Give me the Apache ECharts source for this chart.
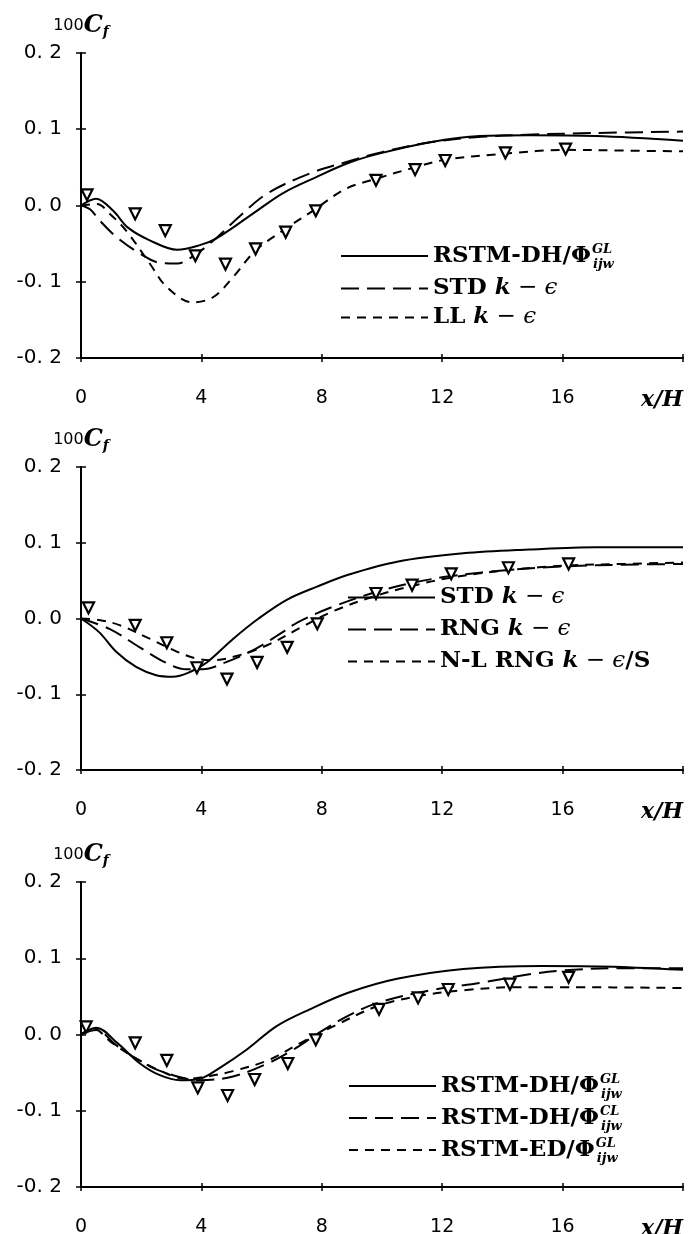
<!DOCTYPE html>
<html><head><meta charset="utf-8">
<script src="https://cdn.jsdelivr.net/npm/echarts@6/dist/echarts.min.js"></script>
<style>html,body{margin:0;padding:0;background:#fff}#c{width:696px;height:1234px}</style>
</head><body><div id="c"></div><script>
// ---- axis ranges ----
const xMin = 0, xMax = 20, xStep = 4;
const yMin = -0.2, yMax = 0.2, yStep = 0.1;

// ---- Panel 1 ----
const p1NameA = 'p1_rstm_dh_gl', p1NameB = 'p1_std', p1NameC = 'p1_ll';
const p1AX = [0, 0.5, 1.07, 1.56, 2.3, 3.2, 3.95, 4.5, 5.7, 6.7, 7.8, 8.9, 9.9, 11.6, 13.25, 14.9, 17.1, 20];
const p1AY = [0.0, 0.009, -0.007, -0.029, -0.046, -0.058, -0.052, -0.043, -0.011, 0.016, 0.037, 0.056, 0.068, 0.083, 0.091, 0.092, 0.091, 0.085];
const p1BX = [0, 0.3, 0.63, 1.2, 1.96, 2.6, 3.2, 3.7, 4.4, 5.3, 6.2, 7.6, 8.9, 10, 11.6, 13.3, 15, 17, 20];
const p1BY = [0.0, -0.005, -0.02, -0.042, -0.063, -0.075, -0.076, -0.067, -0.046, -0.013, 0.016, 0.042, 0.058, 0.07, 0.083, 0.09, 0.093, 0.095, 0.097];
const p1CX = [0, 0.53, 0.96, 1.5, 2.3, 2.85, 3.7, 4.4, 5.05, 5.8, 6.7, 7.7, 8.8, 9.8, 11, 12.1, 14.1, 16.1, 18, 20];
const p1CY = [0.0, 0.002, -0.011, -0.033, -0.077, -0.107, -0.127, -0.12, -0.094, -0.059, -0.033, -0.007, 0.022, 0.035, 0.049, 0.06, 0.068, 0.073, 0.072, 0.071];
const p1ExpX = [0.2, 1.8, 2.8, 3.8, 4.8, 5.8, 6.8, 7.8, 9.8, 11.1, 12.1, 14.1, 16.1];
const p1ExpY = [0.014, -0.011, -0.033, -0.066, -0.077, -0.057, -0.035, -0.007, 0.033, 0.047, 0.059, 0.069, 0.074];

// ---- Panel 2 ----
const p2NameA = 'p2_std', p2NameB = 'p2_rng', p2NameC = 'p2_nl_rng';
const p2AX = [0, 0.6, 1.17, 1.83, 2.5, 3.05, 3.6, 4.18, 5.05, 5.9, 6.85, 7.84, 8.9, 10.5, 12.7, 14.9, 17.1, 20];
const p2AY = [0.0, -0.018, -0.044, -0.064, -0.075, -0.077, -0.071, -0.058, -0.027, 0.0, 0.025, 0.042, 0.058, 0.075, 0.086, 0.091, 0.094, 0.094];
const p2BX = [0, 0.96, 1.95, 2.8, 3.5, 4.05, 4.8, 5.8, 6.7, 7.2, 8.4, 9.8, 11, 12.3, 14.2, 16.2, 18, 20];
const p2BY = [0.0, -0.014, -0.038, -0.058, -0.067, -0.067, -0.058, -0.04, -0.018, -0.005, 0.016, 0.035, 0.047, 0.056, 0.064, 0.069, 0.071, 0.072];
const p2CX = [0, 0.6, 1.3, 2.3, 3.2, 3.85, 4.4, 5.3, 6.2, 7.3, 8.4, 9.8, 11, 12.3, 14.2, 16.2, 18, 20];
const p2CY = [0.0, -0.002, -0.009, -0.027, -0.044, -0.053, -0.055, -0.048, -0.035, -0.012, 0.01, 0.03, 0.043, 0.054, 0.064, 0.07, 0.072, 0.074];
const p2ExpX = [0.25, 1.8, 2.85, 3.85, 4.85, 5.85, 6.85, 7.85, 9.8, 11.0, 12.3, 14.2, 16.2];
const p2ExpY = [0.014, -0.009, -0.032, -0.065, -0.08, -0.058, -0.038, -0.007, 0.033, 0.044, 0.059, 0.067, 0.072];

// ---- Panel 3 ----
const p3NameA = 'p3_rstm_dh_gl', p3NameB = 'p3_rstm_dh_cl', p3NameC = 'p3_rstm_ed_gl';
const p3AX = [0, 0.5, 1.2, 1.96, 2.6, 3.3, 3.95, 4.6, 5.5, 6.5, 7.6, 8.9, 10.5, 12.7, 15.3, 17.7, 20];
const p3AY = [0.0, 0.009, -0.011, -0.038, -0.053, -0.06, -0.058, -0.044, -0.02, 0.011, 0.033, 0.055, 0.073, 0.086, 0.09, 0.089, 0.085];
const p3BX = [0, 0.5, 1.2, 2.3, 3.2, 3.95, 5.05, 6.2, 7.05, 7.9, 8.9, 9.9, 11.6, 13.3, 14.9, 16, 18, 20];
const p3BY = [0.0, 0.006, -0.015, -0.042, -0.055, -0.06, -0.055, -0.038, -0.02, 0.002, 0.025, 0.042, 0.058, 0.068, 0.079, 0.084, 0.087, 0.087];
const p3CX = [0, 0.4, 1.0, 1.73, 2.6, 3.5, 4.2, 5.05, 6.2, 7.3, 8.4, 9.9, 11.3, 12.7, 14.4, 16.2, 20];
const p3CY = [0.0, 0.008, -0.01, -0.029, -0.047, -0.058, -0.055, -0.048, -0.034, -0.011, 0.011, 0.038, 0.051, 0.058, 0.062, 0.062, 0.061];
const p3ExpX = [0.17, 1.8, 2.85, 3.88, 4.87, 5.77, 6.87, 7.8, 9.9, 11.2, 12.2, 14.25, 16.2];
const p3ExpY = [0.01, -0.011, -0.034, -0.07, -0.08, -0.059, -0.038, -0.007, 0.033, 0.048, 0.059, 0.066, 0.075];

// ---- legend labels (rich text) ----
const kEps = '{i|k}{m| − }{e|ϵ}';
const legendText = {
  [p1NameA]: '{b|RSTM-DH/Φ}{sup|GL}{sub|ijw}',
  [p1NameB]: '{b|STD }' + kEps,
  [p1NameC]: '{b|LL }' + kEps,
  [p2NameA]: '{b|STD }' + kEps,
  [p2NameB]: '{b|RNG }' + kEps,
  [p2NameC]: '{b|N-L RNG }' + kEps + '{b|/S}',
  [p3NameA]: '{b|RSTM-DH/Φ}{sup|GL}{sub|ijw}',
  [p3NameB]: '{b|RSTM-DH/Φ}{sup|CL}{sub|ijw}',
  [p3NameC]: '{b|RSTM-ED/Φ}{sup|GL}{sub|ijw}'
};

const zip = (xs, ys) => xs.map((x, i) => [x, ys[i]]);
const SOLID = 'solid', LONG = [18, 8], SHORT = [9, 7];

const panels = [
  { top: 53, height: 305, legendLeft: 340, legendTop: 241, legendGap: 6,
    lines: [[p1NameA, p1AX, p1AY, SOLID], [p1NameB, p1BX, p1BY, LONG], [p1NameC, p1CX, p1CY, SHORT]],
    exp: [p1ExpX, p1ExpY] },
  { top: 467, height: 303, legendLeft: 347, legendTop: 586, legendGap: 9,
    lines: [[p2NameA, p2AX, p2AY, SOLID], [p2NameB, p2BX, p2BY, LONG], [p2NameC, p2CX, p2CY, SHORT]],
    exp: [p2ExpX, p2ExpY] },
  { top: 882, height: 305, legendLeft: 348, legendTop: 1071, legendGap: 2,
    lines: [[p3NameA, p3AX, p3AY, SOLID], [p3NameB, p3BX, p3BY, LONG], [p3NameC, p3CX, p3CY, SHORT]],
    exp: [p3ExpX, p3ExpY] }
];

const serifB = { fontFamily: 'DejaVu Serif', fontWeight: 'bold', color: '#000' };
const FS = 23;
const legendRich = {
  b: Object.assign({ fontSize: FS, lineHeight: 30 }, serifB),
  i: Object.assign({ fontSize: FS, lineHeight: 30, fontStyle: 'italic' }, serifB),
  m: { fontFamily: 'DejaVu Serif', fontSize: FS, lineHeight: 30, color: '#000' },
  e: { fontFamily: 'DejaVu Serif', fontStyle: 'italic', fontSize: FS, lineHeight: 30, color: '#000' },
  sup: Object.assign({ fontSize: 13, fontStyle: 'italic', lineHeight: 14, verticalAlign: 'top', width: 0, align: 'left', padding: [2, 0, 0, 1] }, serifB),
  sub: Object.assign({ fontSize: 13, fontStyle: 'italic', lineHeight: 14, verticalAlign: 'bottom', padding: [0, 0, 0, 1] }, serifB)
};

const grids = [], xAxes = [], yAxes = [], series = [], legends = [];
panels.forEach((p, k) => {
  grids.push({ left: 81, right: 13, top: p.top, height: p.height, containLabel: false, outerBoundsMode: 'none' });
  const xBase = {
    type: 'value', gridIndex: k, min: xMin, max: xMax, interval: xStep, position: 'bottom', offset: 0,
    splitLine: { show: false }
  };
  xAxes.push(Object.assign({}, xBase, {
    axisLine: { show: true, onZero: false, lineStyle: { color: '#000', width: 2 } },
    axisTick: { show: true, inside: false, length: 4, lineStyle: { color: '#000', width: 1.5 } },
    axisLabel: {
      show: true, margin: 31, color: '#000', fontFamily: 'DejaVu Sans', fontSize: 19,
      alignMaxLabel: 'right',
      formatter: v => v === xMax ? '{n|x/H}' : String(v),
      rich: { n: { fontFamily: 'DejaVu Serif', fontWeight: 'bold', fontStyle: 'italic', fontSize: 22, color: '#000' } }
    }
  }));
  xAxes.push(Object.assign({}, xBase, {
    axisLine: { show: false, onZero: false },
    axisTick: { show: true, inside: true, length: 4, lineStyle: { color: '#000', width: 1.5 } },
    axisLabel: { show: false }
  }));
  const yBase = {
    type: 'value', gridIndex: k, min: yMin, max: yMax, interval: yStep, position: 'left', offset: 0,
    splitLine: { show: false }
  };
  yAxes.push(Object.assign({}, yBase, {
    axisLine: { show: true, onZero: false, lineStyle: { color: '#000', width: 2 } },
    axisTick: { show: true, inside: false, length: 5, lineStyle: { color: '#000', width: 1.5 } },
    axisLabel: {
      show: true, margin: 19, color: '#000', fontFamily: 'DejaVu Sans', fontSize: 20,
      formatter: v => (Math.abs(v) < 1e-9 ? 0 : v).toFixed(1).replace('.', '. ')
    },
    name: '{a|100}{c|C}{s|f}', nameLocation: 'end', nameGap: 14,
    nameTextStyle: {
      align: 'center',
      rich: {
        a: { fontFamily: 'DejaVu Sans', fontSize: 16, color: '#000', lineHeight: 26, verticalAlign: 'middle' },
        c: { fontFamily: 'DejaVu Serif', fontWeight: 'bold', fontStyle: 'italic', fontSize: 24, color: '#000', lineHeight: 26 },
        s: { fontFamily: 'DejaVu Serif', fontWeight: 'bold', fontStyle: 'italic', fontSize: 14, color: '#000', lineHeight: 14, verticalAlign: 'bottom' }
      }
    }
  }));
  yAxes.push(Object.assign({}, yBase, {
    axisLine: { show: false, onZero: false },
    axisTick: { show: true, inside: true, length: 5, lineStyle: { color: '#000', width: 1.5 } },
    axisLabel: { show: false }
  }));
  p.lines.forEach(([name, xs, ys, dash]) => {
    series.push({
      type: 'line', name, xAxisIndex: 2 * k, yAxisIndex: 2 * k, data: zip(xs, ys),
      smooth: 0.35, symbol: 'none', silent: true, z: 2,
      lineStyle: { color: '#000', width: 2, type: dash }, itemStyle: { color: '#000' }
    });
  });
  series.push({
    type: 'scatter', name: 'exp' + k, xAxisIndex: 2 * k, yAxisIndex: 2 * k, data: zip(p.exp[0], p.exp[1]),
    symbol: 'triangle', symbolRotate: 180, symbolSize: 11, z: 5, silent: true,
    itemStyle: { color: '#fff', borderColor: '#000', borderWidth: 2.2, opacity: 1 }
  });
  legends.push({
    data: p.lines.map(l => l[0]), orient: 'vertical', left: p.legendLeft, top: p.legendTop,
    itemWidth: 87, itemHeight: 14, itemGap: p.legendGap, selectedMode: false, padding: 0,
    itemStyle: { opacity: 0 },
    formatter: n => legendText[n],
    textStyle: { color: '#000', rich: legendRich }
  });
});

const chart = echarts.init(document.getElementById('c'), null, { renderer: 'canvas' });
chart.setOption({
  backgroundColor: '#fff', animation: false,
  grid: grids, xAxis: xAxes, yAxis: yAxes, series, legend: legends
});
</script></body></html>
